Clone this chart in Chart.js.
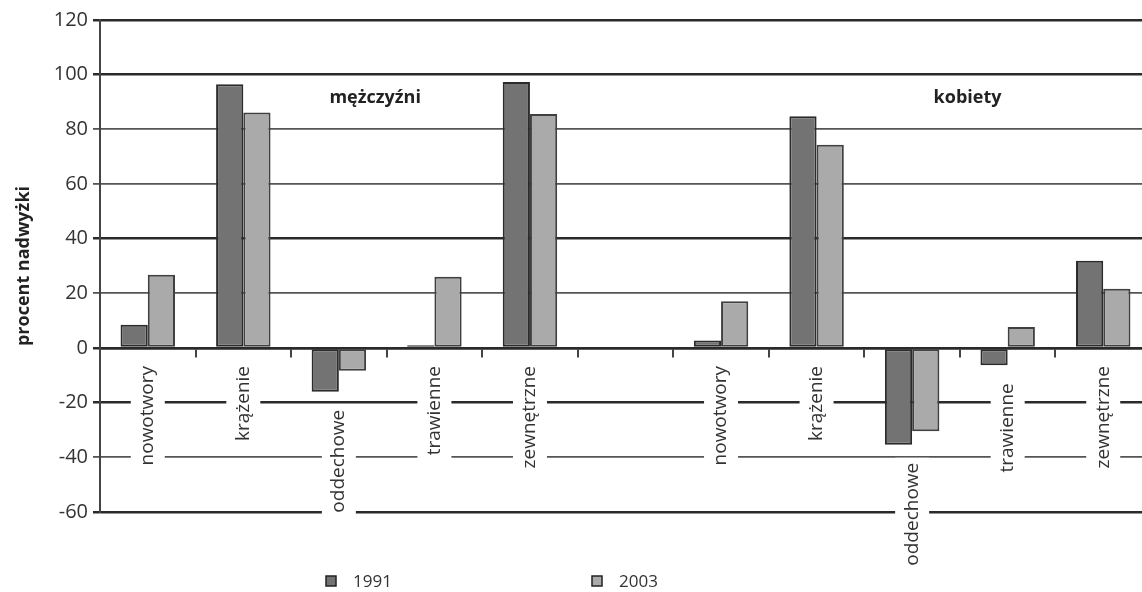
<!DOCTYPE html>
<html>
<head>
<meta charset="utf-8">
<script src="https://cdn.jsdelivr.net/npm/chart.js@4.4.1/dist/chart.umd.min.js"></script>
<style>
  html, body { margin: 0; padding: 0; background: #fff; overflow: hidden; }
  #wrap { width: 1142px; height: 592px; overflow: hidden; }
</style>
</head>
<body>
<div id="wrap"><canvas id="chart" width="1152" height="592"></canvas></div>
<script>
// dane
const categories = ['nowotwory', 'krążenie', 'oddechowe', 'trawienne', 'zewnętrzne', '',
                    'nowotwory', 'krążenie', 'oddechowe', 'trawienne', 'zewnętrzne']
const values1991 = [8.5, 96.5, -16, 1, 97.3, null, 2.7, 84.8, -35.4, -6.3, 31.9]
const values2003 = [26.8, 86.2, -8.3, 26.1, 85.6, null, 17.1, 74.4, -30.5, 7.7, 21.7]
const seriesNames = ['1991', '2003']
const yTicks = [-60, -40, -20, 0, 20, 40, 60, 80, 100, 120]
const thickLines = [120, 100, 40, 0, -20, -60]
const groupNames = ['mężczyźni', 'kobiety']

const dark = '#737373'
const light = '#aaaaaa'
const font = '"Open Sans", "DejaVu Sans", sans-serif'

// napisy kategorii pod osią, obrócone, z białym tłem
const catLabels = {
  id: 'catLabels',
  afterDatasetsDraw(chart) {
    const {ctx, scales: {x, y}} = chart
    ctx.save()
    ctx.font = '19px ' + font
    categories.forEach((name, i) => {
      if (!name) return
      const low = Math.min(0, values1991[i] ?? 0, values2003[i] ?? 0)
      const top = y.getPixelForValue(low) + 18
      const px = x.getPixelForValue(i)
      const w = ctx.measureText(name).width
      ctx.fillStyle = '#fff'
      ctx.fillRect(px - 17, top - 5, 34, w + 10)
      ctx.save()
      ctx.translate(px, top)
      ctx.rotate(-Math.PI / 2)
      ctx.textAlign = 'right'
      ctx.textBaseline = 'middle'
      ctx.fillStyle = '#333'
      ctx.fillText(name, 0, 0)
      ctx.restore()
    })
    // podpisy grup
    ctx.font = 'bold 18px ' + font
    ctx.fillStyle = '#222'
    ctx.textAlign = 'center'
    ctx.textBaseline = 'middle'
    const at = [2.38, 8.58]
    groupNames.forEach((g, k) => {
      ctx.fillText(g, x.getPixelForValue(at[k]), y.getPixelForValue(91.5))
    })
    ctx.restore()
  }
}

// legenda na dole
const bottomLegend = {
  id: 'bottomLegend',
  afterDraw(chart) {
    const {ctx} = chart
    const xs = [326, 592]
    const cy = 581
    ctx.save()
    ctx.font = '17px ' + font
    ctx.textBaseline = 'middle'
    ctx.textAlign = 'left'
    chart.data.datasets.forEach((ds, k) => {
      ctx.fillStyle = ds.backgroundColor
      ctx.fillRect(xs[k], cy - 5, 10, 10)
      ctx.strokeStyle = '#222'
      ctx.lineWidth = 1.5
      ctx.strokeRect(xs[k], cy - 5, 10, 10)
      ctx.fillStyle = '#333'
      ctx.fillText(ds.label, xs[k] + 27, cy + 1)
    })
    ctx.restore()
  }
}

new Chart(document.getElementById('chart'), {
  type: 'bar',
  data: {
    labels: categories,
    datasets: [{
      label: seriesNames[0],
      data: values1991,
      backgroundColor: dark,
      borderColor: '#2b2b2b',
      borderWidth: 2,
      borderSkipped: false
    }, {
      label: seriesNames[1],
      data: values2003,
      backgroundColor: light,
      borderColor: '#404040',
      borderWidth: 2,
      borderSkipped: false
    }]
  },
  options: {
    responsive: false,
    animation: false,
    devicePixelRatio: 1,
    layout: { padding: { top: 20, bottom: 80, right: 1, left: 0 } },
    datasets: { bar: { barPercentage: 1, categoryPercentage: 0.57 } },
    plugins: { legend: { display: false }, tooltip: { enabled: false } },
    scales: {
      x: {
        position: { y: 0 },
        afterFit: s => { s.height = 0 },
        ticks: { display: false },
        grid: {
          drawOnChartArea: false,
          drawTicks: true,
          tickLength: 8,
          color: '#444',
          lineWidth: 2
        },
        border: { display: true, color: '#2a2a2a', width: 2.5 }
      },
      y: {
        min: -60,
        max: 120,
        afterFit: s => { s.width = 100 },
        afterBuildTicks: s => { s.ticks = yTicks.map(v => ({ value: v })) },
        ticks: {
          padding: 5,
          color: '#333',
          font: { family: font, size: 20 }
        },
        grid: {
          tickLength: 7,
          color: c => thickLines.includes(c.tick.value) ? '#2a2a2a' : '#555',
          lineWidth: c => thickLines.includes(c.tick.value) ? 2.5 : 1.8
        },
        border: { display: true, color: '#444', width: 2 },
        title: {
          display: true,
          text: 'procent nadwyżki',
          color: '#222',
          font: { family: font, size: 18, weight: 'bold' },
          padding: { top: 13, bottom: 0 }
        }
      }
    }
  },
  plugins: [catLabels, bottomLegend]
})
</script>
</body>
</html>
